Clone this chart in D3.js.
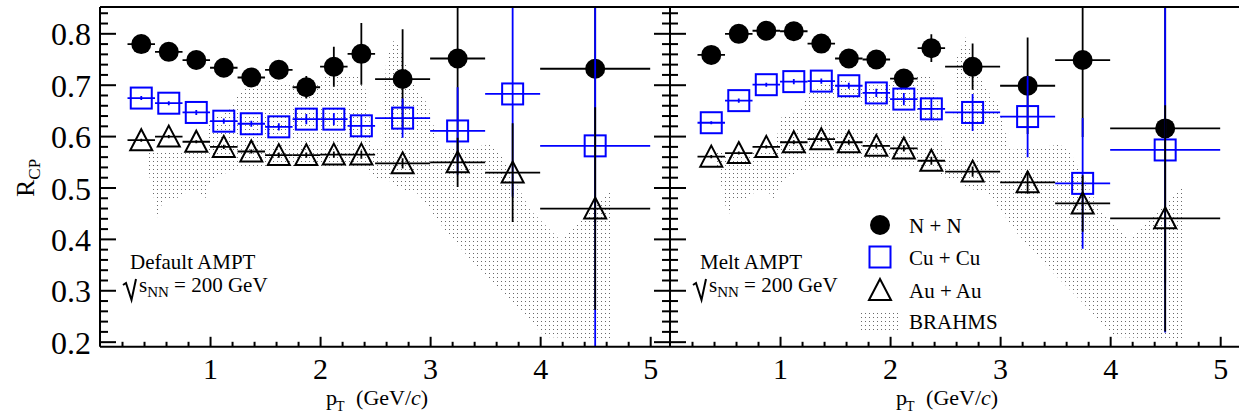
<!DOCTYPE html>
<html>
<head>
<meta charset="utf-8">
<script src="https://cdn.jsdelivr.net/npm/d3@7"></script>
<style>
  body { margin: 0; background: #fff; }
  svg text { font-family: "Liberation Serif", "Times New Roman", Times, "DejaVu Serif", serif !important; fill: #000; }
</style>
</head>
<body>
<svg id="chart" width="1239" height="415"></svg>
<script>
// pT bins (GeV/c) and half widths
const ptBins = [0.375, 0.625, 0.875, 1.125, 1.375, 1.625, 1.875, 2.125, 2.375, 2.75, 3.25, 3.75, 4.5];
const ptHalfWidths = [0.125, 0.125, 0.125, 0.125, 0.125, 0.125, 0.125, 0.125, 0.125, 0.25, 0.25, 0.25, 0.5];

// Default AMPT
const nnDefault    = [0.779, 0.764, 0.748, 0.733, 0.714, 0.729, 0.695, 0.735, 0.760, 0.711, 0.751, null, 0.731];
const nnDefaultErr = [0.004, 0.004, 0.005, 0.005, 0.006, 0.007, 0.022, 0.039, 0.060, 0.097, 0.200, null, 0.300];
const cuDefault    = [0.674, 0.664, 0.646, 0.629, 0.624, 0.618, 0.633, 0.633, 0.620, 0.635, 0.610, 0.682, 0.581];
const cuDefaultErr = [0.004, 0.004, 0.005, 0.005, 0.006, 0.007, 0.010, 0.012, 0.021, 0.038, 0.085, 0.200, 0.450];
const auDefault    = [0.592, 0.599, 0.589, 0.579, 0.570, 0.563, 0.563, 0.564, 0.564, 0.547, 0.549, 0.529, 0.459];
const auDefaultErr = [0.003, 0.003, 0.003, 0.004, 0.004, 0.005, 0.005, 0.006, 0.008, 0.010, 0.048, 0.096, 0.197];

// Melt AMPT
const nnMelt    = [0.758, 0.799, 0.805, 0.804, 0.780, 0.751, 0.749, 0.712, 0.771, 0.735, 0.698, 0.748, 0.615];
const nnMeltErr = [0.004, 0.005, 0.005, 0.005, 0.006, 0.006, 0.007, 0.010, 0.027, 0.045, 0.094, 0.150, 0.300];
const cuMelt    = [0.626, 0.669, 0.700, 0.706, 0.707, 0.698, 0.684, 0.672, 0.653, 0.646, 0.638, 0.508, 0.573];
const cuMeltErr = [0.003, 0.004, 0.004, 0.005, 0.005, 0.006, 0.008, 0.012, 0.021, 0.036, 0.079, 0.127, 0.355];
const auMelt    = [0.560, 0.567, 0.579, 0.588, 0.594, 0.588, 0.581, 0.576, 0.552, 0.531, 0.510, 0.469, 0.440];
const auMeltErr = [0.003, 0.003, 0.003, 0.004, 0.004, 0.005, 0.005, 0.006, 0.008, 0.010, 0.022, 0.055, 0.220];

// BRAHMS band edges [pT, R_CP]
const brahmsUpper = [
  [0.418, 0.573], [0.955, 0.573], [1.0, 0.635], [1.164, 0.647], [1.273, 0.686], [1.382, 0.701],
  [1.591, 0.709], [1.727, 0.699], [1.982, 0.699], [2.045, 0.715], [2.382, 0.717], [2.436, 0.670],
  [2.473, 0.579], [2.564, 0.579], [2.6, 0.748], [2.682, 0.793], [2.745, 0.758], [2.864, 0.694],
  [2.982, 0.661], [3.091, 0.573], [3.273, 0.577], [3.545, 0.583], [3.636, 0.569], [3.909, 0.456],
  [4.182, 0.398], [4.655, 0.499]
];
const brahmsLower = [
  [0.418, 0.553], [0.455, 0.515], [0.527, 0.441], [0.573, 0.476], [0.682, 0.476], [0.755, 0.489],
  [0.891, 0.491], [0.955, 0.476], [0.991, 0.505], [1.045, 0.518], [1.164, 0.530], [1.273, 0.538],
  [1.409, 0.540], [2.418, 0.538], [2.473, 0.522], [2.527, 0.518], [2.6, 0.518], [2.709, 0.499],
  [2.882, 0.489], [2.936, 0.476], [3.155, 0.411], [3.427, 0.346], [3.727, 0.281], [4.045, 0.209],
  [4.655, 0.204]
];

const yTicks = [0.2, 0.3, 0.4, 0.5, 0.6, 0.7, 0.8];
const xTicks = [1, 2, 3, 4, 5];
const legendLabels = ["N + N", "Cu + Cu", "Au + Au", "BRAHMS"];

const BLUE = "#0000ff";
const FONT = '"Liberation Serif", "Times New Roman", Times, "DejaVu Serif", serif';
const svg = d3.select("#chart");

const plotTop = 7.1, plotBottom = 346.8;
const y = d3.scaleLinear().domain([0.19, 0.851]).range([plotBottom, plotTop]);

// dotted fill for the BRAHMS band
const defs = svg.append("defs");
defs.append("pattern")
  .attr("id", "dots")
  .attr("patternUnits", "userSpaceOnUse")
  .attr("width", 4).attr("height", 4)
  .append("rect").attr("x", 1).attr("y", 1).attr("width", 1).attr("height", 1).attr("fill", "#6a6a6a");

const panels = [
  { x0: 100, x1: 670, name: "Default AMPT",
    series: [
      { vals: nnDefault, errs: nnDefaultErr, color: "#000", marker: "circle" },
      { vals: cuDefault, errs: cuDefaultErr, color: BLUE, marker: "square" },
      { vals: auDefault, errs: auDefaultErr, color: "#000", marker: "triangle" }
    ] },
  { x0: 670, x1: 1240, name: "Melt AMPT",
    series: [
      { vals: nnMelt, errs: nnMeltErr, color: "#000", marker: "circle" },
      { vals: cuMelt, errs: cuMeltErr, color: BLUE, marker: "square" },
      { vals: auMelt, errs: auMeltErr, color: "#000", marker: "triangle" }
    ] }
];

function drawMarker(g, type, cx, cy, color) {
  if (type === "circle") {
    g.append("circle").attr("cx", cx).attr("cy", cy).attr("r", 10).attr("fill", color);
  } else if (type === "square") {
    g.append("rect").attr("x", cx - 10.5).attr("y", cy - 10.5).attr("width", 21).attr("height", 21)
      .attr("fill", "none").attr("stroke", color).attr("stroke-width", 2);
  } else {
    g.append("path").attr("d", `M${cx},${cy - 11}L${cx + 11},${cy + 10}L${cx - 11},${cy + 10}Z`)
      .attr("fill", "none").attr("stroke", color).attr("stroke-width", 2);
  }
}

const minorY = d3.range(0.2, 0.85, 0.02).filter(v => Math.abs(v * 10 - Math.round(v * 10)) > 0.01);
const minorX = d3.range(0.2, 5.19, 0.2).filter(v => Math.abs(v - Math.round(v)) > 0.01);

panels.forEach((p, pi) => {
  const x = d3.scaleLinear().domain([0, 5.18]).range([p.x0, p.x1]);

  defs.append("clipPath").attr("id", "clip" + pi)
    .append("rect").attr("x", p.x0).attr("y", plotTop).attr("width", p.x1 - p.x0).attr("height", plotBottom - plotTop);

  const plot = svg.append("g").attr("clip-path", `url(#clip${pi})`);

  // BRAHMS band
  const poly = brahmsUpper.concat(brahmsLower.slice().reverse());
  plot.append("path")
    .attr("d", d3.line().x(d => x(d[0])).y(d => y(d[1]))(poly) + "Z")
    .attr("fill", "url(#dots)");

  // error bars then markers
  p.series.forEach(s => {
    const g = plot.append("g");
    ptBins.forEach((pt, i) => {
      const v = s.vals[i];
      if (v == null) return;
      const e = s.errs[i];
      g.append("line").attr("x1", x(pt - ptHalfWidths[i])).attr("x2", x(pt + ptHalfWidths[i]))
        .attr("y1", y(v)).attr("y2", y(v)).attr("stroke", s.color).attr("stroke-width", 1.8);
      g.append("line").attr("x1", x(pt)).attr("x2", x(pt))
        .attr("y1", y(v + e)).attr("y2", y(v - e)).attr("stroke", s.color).attr("stroke-width", 1.8);
    });
    ptBins.forEach((pt, i) => {
      if (s.vals[i] == null) return;
      drawMarker(g, s.marker, x(pt), y(s.vals[i]), s.color);
    });
  });

  // x axis: major + minor ticks pointing up
  const xMajor = svg.append("g").attr("transform", `translate(0,${plotBottom})`)
    .call(d3.axisBottom(x).tickValues(xTicks).tickSize(-10).tickSizeOuter(0).tickPadding(11).tickFormat(d3.format("d")));
  xMajor.attr("font-family", FONT).selectAll("text").style("font-size", "30px");
  const xMinor = svg.append("g").attr("transform", `translate(0,${plotBottom})`)
    .call(d3.axisBottom(x).tickValues(minorX).tickSize(-5).tickSizeOuter(0).tickFormat(""));
  [xMajor, xMinor].forEach(a => {
    a.select(".domain").remove();
    a.selectAll("line").attr("stroke-width", 2);
  });

  // y axis ticks on the left side of the panel
  const yMajor = svg.append("g").attr("transform", `translate(${p.x0},0)`)
    .call(d3.axisLeft(y).tickValues(yTicks).tickSize(-16).tickSizeOuter(0).tickPadding(9)
      .tickFormat(pi === 0 ? d3.format(".1f") : ""));
  yMajor.attr("font-family", FONT).selectAll("text").style("font-size", "32px").attr("dy", "0.36em");
  const yMinor = svg.append("g").attr("transform", `translate(${p.x0},0)`)
    .call(d3.axisLeft(y).tickValues(minorY).tickSize(-8).tickSizeOuter(0).tickFormat(""));
  [yMajor, yMinor].forEach(a => {
    a.select(".domain").remove();
    a.selectAll("line").attr("stroke-width", 2);
  });

  // left panel also has ticks on its right edge
  if (pi === 0) {
    const rMajor = svg.append("g").attr("transform", `translate(${p.x1},0)`)
      .call(d3.axisRight(y).tickValues(yTicks).tickSize(-16).tickSizeOuter(0).tickFormat(""));
    const rMinor = svg.append("g").attr("transform", `translate(${p.x1},0)`)
      .call(d3.axisRight(y).tickValues(minorY).tickSize(-8).tickSizeOuter(0).tickFormat(""));
    [rMajor, rMinor].forEach(a => {
      a.select(".domain").remove();
      a.selectAll("line").attr("stroke-width", 2);
    });
  }

  // x title
  const xt = svg.append("text").attr("x", p.x0 + 226).attr("y", 405).style("font-size", "22px");
  xt.append("tspan").text("p");
  xt.append("tspan").text("T").attr("dy", 6).attr("dx", -1).style("font-size", "14px");
  xt.append("tspan").text(" (GeV/").attr("dy", -6).attr("dx", 6);
  xt.append("tspan").text("c").style("font-style", "italic");
  xt.append("tspan").text(")");

  // annotation
  svg.append("text").attr("x", p.x0 + 30).attr("y", 269).style("font-size", "21px").text(p.name);
  svg.append("path")
    .attr("d", `M${p.x0 + 23},${285}L${p.x0 + 26},${283}L${p.x0 + 31.5},${300}L${p.x0 + 36},${279}`)
    .attr("fill", "none").attr("stroke", "#000").attr("stroke-width", 2);
  const sq = svg.append("text").attr("x", p.x0 + 39).attr("y", 292).style("font-size", "21px");
  sq.append("tspan").text("s");
  sq.append("tspan").text("NN").attr("dy", 5).style("font-size", "15px");
  sq.append("tspan").text(" = 200 GeV").attr("dy", -5);
});

// frame lines
const frame = svg.append("g").attr("stroke", "#000").attr("stroke-width", 2).attr("fill", "none");
frame.append("line").attr("x1", 100).attr("x2", 1240).attr("y1", plotTop).attr("y2", plotTop);
frame.append("line").attr("x1", 100).attr("x2", 1240).attr("y1", plotBottom).attr("y2", plotBottom);
frame.append("line").attr("x1", 100).attr("x2", 100).attr("y1", plotTop).attr("y2", plotBottom);
frame.append("line").attr("x1", 670).attr("x2", 670).attr("y1", plotTop).attr("y2", plotBottom);

// y title
const yt = svg.append("text").attr("transform", "translate(34,197) rotate(-90)").style("font-size", "26px");
yt.append("tspan").text("R");
yt.append("tspan").text("CP").attr("dy", 6).style("font-size", "17px");

// legend
const leg = svg.append("g");
const legX = 880, legRows = [225, 257, 290, 321];
drawMarker(leg, "circle", legX, legRows[0], "#000");
drawMarker(leg, "square", legX, legRows[1], BLUE);
drawMarker(leg, "triangle", legX, legRows[2], "#000");
leg.append("rect").attr("x", 858).attr("y", 312).attr("width", 42).attr("height", 18).attr("fill", "url(#dots)");
legendLabels.forEach((t, i) => {
  leg.append("text").attr("x", 909).attr("y", legRows[i] + 8).style("font-size", "21px").text(t);
});
</script>
</body>
</html>
